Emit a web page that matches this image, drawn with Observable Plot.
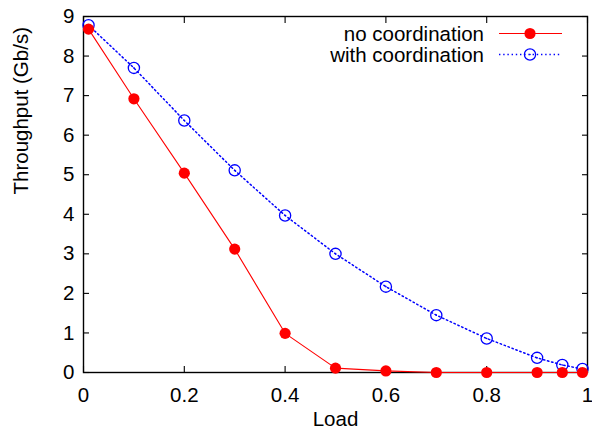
<!DOCTYPE html>
<html><head><meta charset="utf-8">
<script src="https://cdn.jsdelivr.net/npm/d3@7"></script>
<script src="https://cdn.jsdelivr.net/npm/@observablehq/plot@0.6"></script>
<style>body{margin:0;background:#fff}</style>
</head><body><div id="chart"></div>
<script>
const load = [0.01, 0.1, 0.2, 0.3, 0.4, 0.5, 0.6, 0.7, 0.8, 0.9, 0.95, 0.99];
const noCoord = [8.68, 6.92, 5.04, 3.12, 0.99, 0.11, 0.04, 0.0, 0.0, 0.0, 0.0, 0.0];
const withCoord = [8.78, 7.70, 6.37, 5.11, 3.97, 3.00, 2.17, 1.45, 0.86, 0.37, 0.19, 0.09];
const xTicks = [0, 0.2, 0.4, 0.6, 0.8, 1];
const yTicks = [0, 1, 2, 3, 4, 5, 6, 7, 8, 9];
const seriesNames = ["no coordination", "with coordination"];
const xLabel = "Load";
const yLabel = "Throughput (Gb/s)";

const RED = "#ff0000", BLUE = "#0000ff";
const FONT = "'Liberation Sans', Arial, Helvetica, sans-serif";
const FS = 20.5;
const DASH = "1.4,2.8";

const rowsA = load.map((x, i) => ({x, y: noCoord[i]}));
const rowsB = load.map((x, i) => ({x, y: withCoord[i]}));

function legend(index, scales, values, dims) {
  const right = dims.width - dims.marginRight;
  const top = dims.marginTop;
  const g = d3.create("svg:g").attr("font-family", FONT).attr("font-size", FS);
  const items = [
    {name: seriesNames[0], color: RED, dash: null, filled: true},
    {name: seriesNames[1], color: BLUE, dash: DASH, filled: false}
  ];
  items.forEach((it, i) => {
    const y = top + 17.5 + i * 21;
    g.append("text").attr("x", right - 103).attr("y", y).attr("dy", "0.37em")
      .attr("text-anchor", "end").attr("fill", "black").text(it.name);
    g.append("line").attr("x1", right - 88).attr("x2", right - 25).attr("y1", y).attr("y2", y)
      .attr("stroke", it.color).attr("stroke-width", it.filled ? 1.1 : 1.5)
      .attr("stroke-dasharray", it.dash);
    const cx = right - 57;
    if (it.filled) {
      g.append("circle").attr("cx", cx).attr("cy", y).attr("r", 5.6).attr("fill", it.color);
    } else {
      g.append("circle").attr("cx", cx).attr("cy", y).attr("r", 5.6).attr("fill", "none")
        .attr("stroke", it.color).attr("stroke-width", 1.3);
      g.append("circle").attr("cx", cx).attr("cy", y).attr("r", 0.8).attr("fill", it.color);
    }
  });
  return g.node();
}

const chart = Plot.plot({
  width: 592,
  height: 435,
  marginLeft: 83,
  marginRight: 5,
  marginTop: 16,
  marginBottom: 63,
  style: {fontFamily: FONT, fontSize: FS + "px", background: "white", color: "black", overflow: "visible"},
  x: {domain: [0, 1], label: null},
  y: {domain: [0, 9], label: null},
  marks: [
    Plot.axisX(xTicks, {anchor: "bottom", tickSize: -6, tickPadding: 21, tickFormat: d => String(d), fontSize: FS, strokeWidth: 1.1, label: null}),
    Plot.axisX(xTicks, {anchor: "top", tickSize: -6, tickFormat: () => "", strokeWidth: 1.1, label: null}),
    Plot.axisY(yTicks, {anchor: "left", tickSize: -6, tickPadding: 15, tickFormat: d => String(d), fontSize: FS, strokeWidth: 1.1, label: null}),
    Plot.axisY(yTicks, {anchor: "right", tickSize: -6, tickFormat: () => "", strokeWidth: 1.1, label: null}),
    Plot.frame({stroke: "black", strokeWidth: 1.4}),
    Plot.line(rowsB, {x: "x", y: "y", stroke: BLUE, strokeWidth: 1.5, strokeDasharray: DASH}),
    Plot.dot(rowsB, {x: "x", y: "y", r: 5.6, stroke: BLUE, strokeWidth: 1.3, fill: "none"}),
    Plot.dot(rowsB, {x: "x", y: "y", r: 0.8, fill: BLUE}),
    Plot.line(rowsA, {x: "x", y: "y", stroke: RED, strokeWidth: 1.1}),
    Plot.dot(rowsA, {x: "x", y: "y", r: 5.6, fill: RED}),
    Plot.text([xLabel], {text: d => d, frameAnchor: "bottom", dy: 53, fontSize: FS, fill: "black"}),
    Plot.text([yLabel], {text: d => d, frameAnchor: "left", rotate: -90, dx: -62, fontSize: FS, fill: "black"}),
    legend
  ]
});
document.getElementById("chart").appendChild(chart);
</script>
</body></html>
